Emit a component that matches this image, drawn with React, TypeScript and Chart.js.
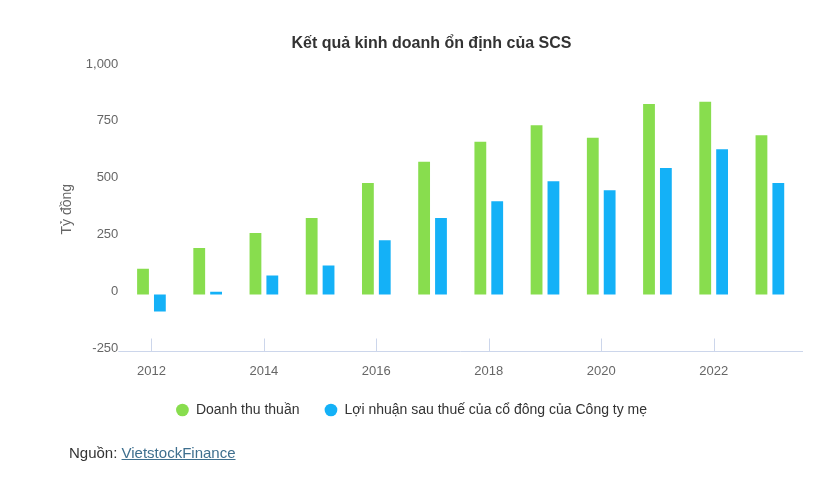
import React, { useEffect, useRef } from "react";
import { Chart, registerables } from "chart.js";

Chart.register(...registerables);

const years = ["2012", "2013", "2014", "2015", "2016", "2017", "2018", "2019", "2020", "2021", "2022", "2023"];
const revenue = [113, 204, 270, 336, 490, 584, 671, 744, 689, 837, 847, 700];
const profit = [-75, 12, 84, 128, 238, 336, 410, 498, 458, 556, 639, 490];
const seriesNames = ["Doanh thu thuần", "Lợi nhuận sau thuế của cổ đông của Công ty mẹ"];
const yMin = -250;
const yMax = 1000;
const yStep = 250;

const FONT = "Arial, 'Liberation Sans', sans-serif";

const axisDecor = {
  id: "axisDecor",
  afterDatasetsDraw(chart: any) {
    const { ctx, chartArea, scales } = chart;
    const x = scales.x;
    ctx.save();
    ctx.strokeStyle = "#ccd6eb";
    ctx.lineWidth = 1;
    const y = Math.round(chartArea.bottom) + 0.5;
    ctx.beginPath();
    ctx.moveTo(chartArea.left - 5, y);
    ctx.lineTo(chartArea.right + 5, y);
    years.forEach((_, i) => {
      if (i % 2 === 0) {
        const px = Math.round(x.getPixelForValue(i)) + 0.5;
        ctx.moveTo(px, y - 13);
        ctx.lineTo(px, y);
      }
    });
    ctx.stroke();
    ctx.restore();
  },
};

export default function App() {
  const ref = useRef<HTMLCanvasElement | null>(null);

  useEffect(() => {
    if (!ref.current) return;
    const chart = new Chart(ref.current, {
      type: "bar",
      data: {
        labels: years,
        datasets: [
          {
            label: seriesNames[0],
            data: revenue,
            backgroundColor: "#88dd4e",
            borderWidth: 0,
            categoryPercentage: 0.6,
            barPercentage: 0.7,
          },
          {
            label: seriesNames[1],
            data: profit,
            backgroundColor: "#14b1f7",
            borderWidth: 0,
            categoryPercentage: 0.6,
            barPercentage: 0.7,
          },
        ],
      },
      options: {
        animation: false,
        responsive: false,
        maintainAspectRatio: false,
        layout: { padding: { top: 67, left: 25, right: 33, bottom: 56 } },
        plugins: {
          title: { display: false },
          tooltip: { enabled: false },
          legend: {
            position: "bottom",
            labels: {
              usePointStyle: true,
              pointStyle: "circle",
              boxWidth: 13,
              boxHeight: 9,
              padding: 25,
              color: "#333333",
              font: { family: FONT, size: 14 },
            },
          },
        },
        scales: {
          x: {
            grid: { display: false, drawTicks: false },
            border: { display: false },
            afterFit: (scale: any) => {
              scale.height = scale.height - 13;
            },
            ticks: {
              autoSkip: false,
              maxRotation: 0,
              padding: 12,
              color: "#666666",
              font: { family: FONT, size: 13 },
              callback: (_v: any, i: number) => (i % 2 === 0 ? years[i] : ""),
            },
          },
          y: {
            min: yMin,
            max: yMax,
            grid: { display: false, drawTicks: false },
            border: { display: false },
            ticks: {
              stepSize: yStep,
              padding: 5,
              labelOffset: -3,
              color: "#666666",
              font: { family: FONT, size: 13 },
              callback: (v: any) => Number(v).toLocaleString("en-US"),
            },
            title: {
              display: true,
              text: "Tỷ đồng",
              color: "#666666",
              font: { family: FONT, size: 14 },
              padding: { top: 34, bottom: 5 },
            },
          },
        },
      },
      plugins: [axisDecor],
    });
    return () => chart.destroy();
  }, []);

  return (
    <div style={{ position: "absolute", left: 0, top: 0, width: 831, height: 483, background: "#ffffff" }}>
      <canvas ref={ref} width={831} height={483} style={{ position: "absolute", left: 0, top: 0 }} />
      <div
        style={{
          position: "absolute",
          left: 0,
          top: 34,
          width: 863,
          textAlign: "center",
          fontFamily: FONT,
          fontSize: 16,
          fontWeight: "bold",
          color: "#333333",
        }}
      >
        Kết quả kinh doanh ổn định của SCS
      </div>
      <div
        style={{
          position: "absolute",
          left: 69,
          top: 444,
          fontFamily: FONT,
          fontSize: 15,
          color: "#333333",
        }}
      >
        Nguồn:{" "}
        <a href="#" style={{ color: "#3e6f8e", textDecoration: "underline" }}>
          VietstockFinance
        </a>
      </div>
    </div>
  );
}
